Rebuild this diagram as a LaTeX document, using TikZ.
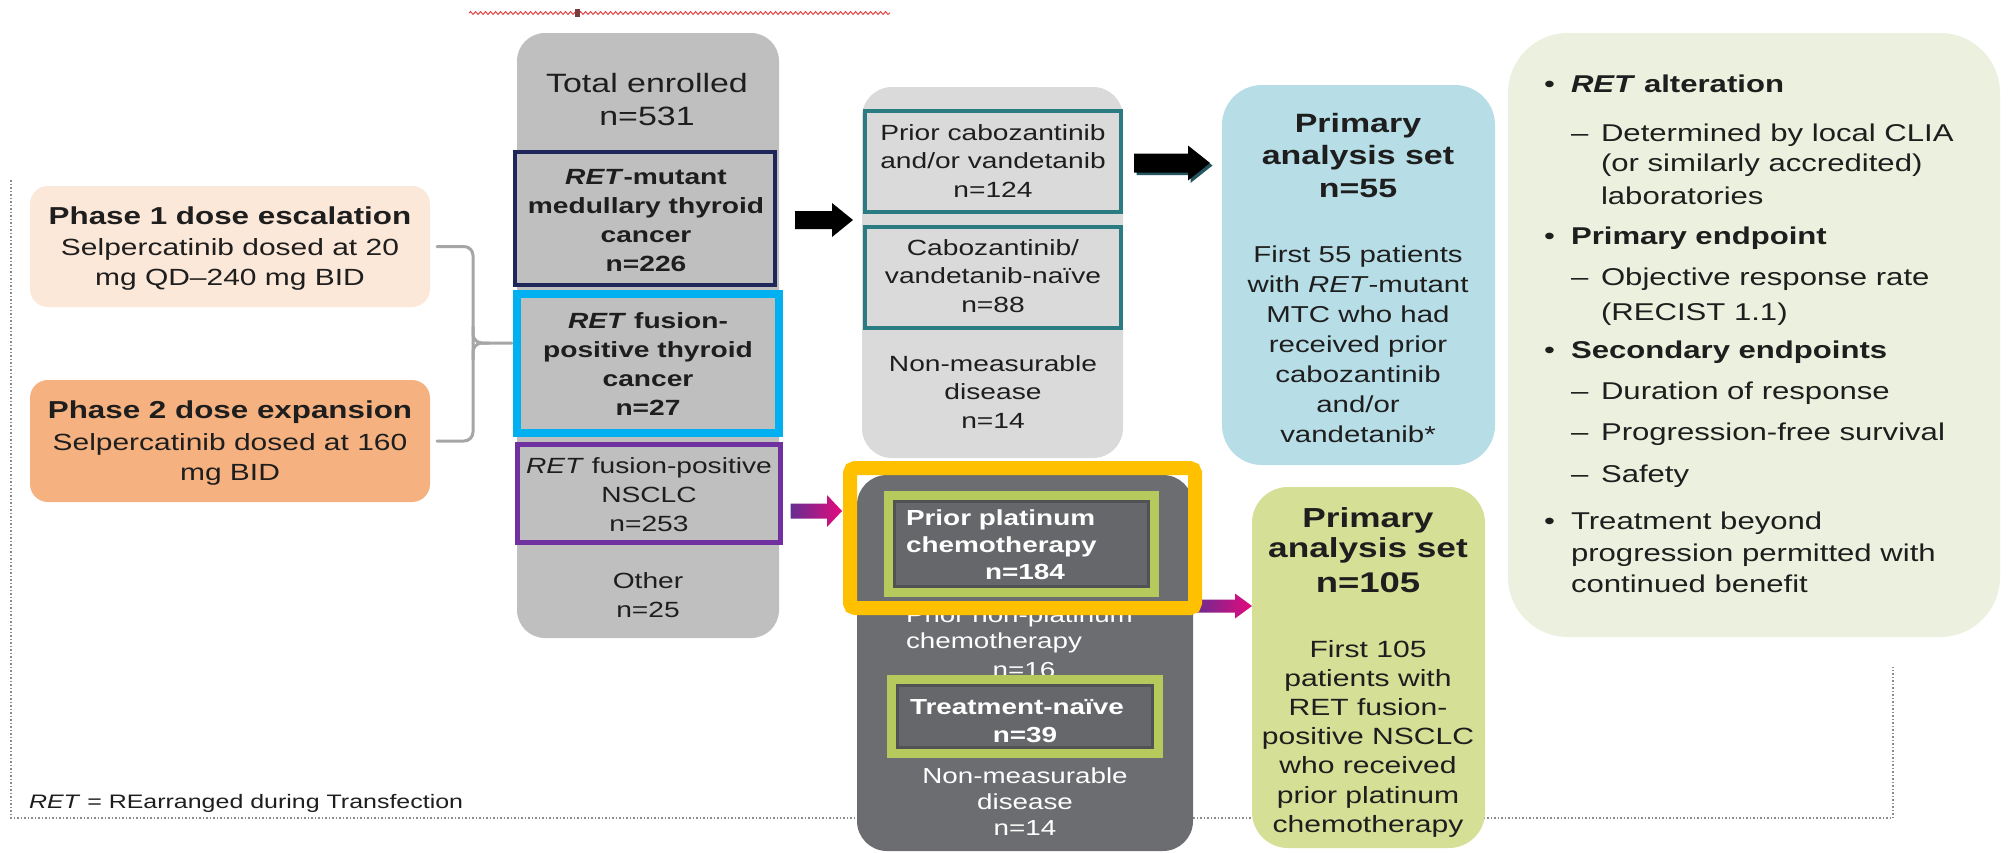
\documentclass[tikz,border=0pt]{standalone}
\usepackage{fontspec}
\setmainfont{Liberation Sans}[FakeStretch=1.28]
\usetikzlibrary{calc,decorations.pathmorphing}

\definecolor{ink}{RGB}{30,30,30}
\definecolor{peach}{RGB}{252,232,217}
\definecolor{phaseorange}{RGB}{245,178,128}
\definecolor{colgray}{RGB}{191,191,191}
\definecolor{navyline}{RGB}{31,38,89}
\definecolor{skyline}{RGB}{0,176,240}
\definecolor{nsclcpurple}{RGB}{112,48,160}
\definecolor{cabogray}{RGB}{218,218,218}
\definecolor{tealline}{RGB}{43,124,130}
\definecolor{darkfill}{RGB}{108,109,112}
\definecolor{platfill}{RGB}{102,103,106}
\definecolor{innerdark}{RGB}{82,82,85}
\definecolor{limeline}{RGB}{181,201,92}
\definecolor{amber}{RGB}{255,192,0}
\definecolor{primblue}{RGB}{183,221,230}
\definecolor{primgreen}{RGB}{214,223,150}
\definecolor{panelgreen}{RGB}{235,241,222}
\definecolor{bracketgray}{RGB}{166,166,166}
\definecolor{framegray}{RGB}{140,140,140}
\definecolor{arrowpurple}{RGB}{102,45,145}
\definecolor{arrowmagenta}{RGB}{228,10,125}
\definecolor{arrowshadow}{RGB}{35,85,95}
\definecolor{squiggle}{RGB}{225,70,70}
\definecolor{cursormark}{RGB}{120,60,60}

\newcommand\fs[2]{\fontsize{#1}{#2}\selectfont}
\newcommand\cstack[1]{\begin{tabular}[t]{@{}c@{}}#1\end{tabular}}
\newcommand\lstack[1]{\begin{tabular}[t]{@{}l@{}}#1\end{tabular}}
% box node from its two corners: name, style, x1, y1, x2, y2
\newcommand\boxat[6]{\node[#2, minimum width={(#5)-(#3)}, minimum height={(#6)-(#4)}] (#1) at ({((#3)+(#5))/2},{((#4)+(#6))/2}) {};}
% horizontal block arrow: style, start, tip, shaft half height, head half height, head length
\newcommand\harrow[6][]{\path[#1] ($(#2)+(0,-#4)$) -- ($(#3)+(-#6,-#4)$) -- ($(#3)+(-#6,-#5)$) -- (#3) -- ($(#3)+(-#6,#5)$) -- ($(#3)+(-#6,#4)$) -- ($(#2)+(0,#4)$) -- cycle;}

\tikzset{
  box/.style={rectangle, inner sep=0pt, outer sep=0pt},
  lbl/.style={inner sep=0pt, outer sep=0pt, anchor=base, text=ink},
  lbll/.style={lbl, anchor=base west},
  wlbl/.style={lbl, text=white},
  wlbll/.style={lbll, text=white},
  bracketline/.style={draw=bracketgray, line width=3pt, line cap=round},
}

\begin{document}
\begin{tikzpicture}[x=1pt, y=-1pt]
\fill[white] (0,0) rectangle (2008,852);
\useasboundingbox (0,0) rectangle (2008,852);

% wavy underline at the top
\draw[squiggle, line width=1pt, decorate, decoration={snake, segment length=5pt, amplitude=1.4pt}] (469,13) -- (890,13);
\fill[cursormark] (574.5,9) rectangle (579.5,17);

% dotted frame
\draw[framegray, line width=1.3pt, dash pattern=on 1.5pt off 2pt] (11,180) -- (11,818) -- (1893,818) -- (1893,667);

% study phases
\boxat{phase1}{box, fill=peach, rounded corners=18pt}{30}{186}{430}{307}
\boxat{phase2}{box, fill=phaseorange, rounded corners=18pt}{30}{380}{430}{502}
\node[lbl, font=\fs{24.5}{30}\bfseries] (phase1-title) at (230,224) {Phase 1 dose escalation};
\node[lbl, font=\fs{23.4}{30}] (phase1-text) at (230,255) {\cstack{Selpercatinib dosed at 20\\mg QD–240 mg BID}};
\node[lbl, font=\fs{24.5}{30}\bfseries] (phase2-title) at (230,418) {Phase 2 dose expansion};
\node[lbl, font=\fs{23.4}{30}] (phase2-text) at (230,450) {\cstack{Selpercatinib dosed at 160\\mg BID}};

% enrolled column
\boxat{total}{box, fill=colgray, rounded corners=28pt}{517}{33}{779}{638}
\boxat{mtc}{box, fill=colgray, draw=navyline, line width=4pt}{515}{152}{775}{285}
\boxat{rtc}{box, fill=colgray, draw=skyline, line width=8pt}{517}{294}{779}{433}
\boxat{nsclc}{box, fill=colgray, draw=nsclcpurple, line width=5pt}{517.5}{444.5}{780.5}{542.5}
\node[lbl, font=\fs{26.5}{33}] (total-text) at (647,92) {\cstack{Total enrolled\\n=531}};
\node[lbl, font=\fs{22}{29}\bfseries] (mtc-text) at (646,184) {\cstack{\textit{RET}-mutant\\medullary thyroid\\cancer\\n=226}};
\node[lbl, font=\fs{22}{29}\bfseries] (rtc-text) at (648,328) {\cstack{\textit{RET} fusion-\\positive thyroid\\cancer\\n=27}};
\node[lbl, font=\fs{22}{29}] (nsclc-text) at (649,473) {\cstack{\textit{RET} fusion-positive\\NSCLC\\n=253}};
\node[lbl, font=\fs{22}{29}] (other-text) at (648,588) {\cstack{Other\\n=25}};

% bracket joining the two phases
\coordinate (bx) at (473,343);
\draw[bracketline, rounded corners=9pt] ($(phase1.east)+(7,0)$) -| (bx);
\draw[bracketline, rounded corners=9pt] ($(phase2.east)+(7,0)$) -| (bx);
\draw[bracketline, rounded corners=9pt] ($(bx)+(0,-16)$) |- ($(bx)+(16,0)$) -- ($(rtc.west |- bx)+(-5,0)$);
\draw[bracketline, rounded corners=9pt] ($(bx)+(0,16)$) |- ($(bx)+(16,0)$);

% MTC breakdown
\boxat{cabo}{box, fill=cabogray, rounded corners=30pt}{862}{87}{1123}{458}
\boxat{pc}{box, fill=cabogray, draw=tealline, line width=4pt}{865}{111}{1121}{212}
\boxat{naive}{box, fill=cabogray, draw=tealline, line width=4pt}{865}{227}{1121}{328}
\node[lbl, font=\fs{22}{28.5}] (pc-text) at (993,140) {\cstack{Prior cabozantinib\\and/or vandetanib\\n=124}};
\node[lbl, font=\fs{22}{28.5}] (naive-text) at (993,255) {\cstack{Cabozantinib/\\vandetanib-naïve\\n=88}};
\node[lbl, font=\fs{22}{28.5}] (mtcnm-text) at (993,371) {\cstack{Non-measurable\\disease\\n=14}};

% primary analysis set, MTC
\boxat{prim55}{box, fill=primblue, rounded corners=40pt}{1222}{85}{1495}{465}
\node[lbl, font=\fs{26.5}{32.5}\bfseries] (prim55-title) at (1358,132) {\cstack{Primary\\analysis set\\n=55}};
\node[lbl, font=\fs{23}{30}] (prim55-text) at (1358,262) {\cstack{First 55 patients\\with \textit{RET}-mutant\\MTC who had\\received prior\\cabozantinib\\and/or\\vandetanib*}};

% black arrows
\coordinate (a1s) at ($(mtc.east)+(20,1.5)$);
\coordinate (a1e) at ($(a1s -| cabo.west)+(-9,0)$);
\harrow[fill=black]{a1s}{a1e}{9}{17}{21}
\coordinate (a2s) at ($(pc.east)+(13,1.5)$);
\coordinate (a2e) at ($(a2s -| prim55.west)+(-12,0)$);
\coordinate (a2ss) at ($(a2s)+(2.5,2.5)$);
\coordinate (a2se) at ($(a2e)+(2.5,2.5)$);
\harrow[fill=arrowshadow]{a2ss}{a2se}{9.5}{17.5}{22}
\harrow[fill=black]{a2s}{a2e}{9.5}{17.5}{22}

% criteria panel
\boxat{panel}{box, fill=panelgreen, rounded corners=60pt}{1508}{33}{2000}{637}
\begin{scope}[every node/.style={lbll, font=\fs{24.3}{30}}]
\node (b1) at (1544,92) {•};
\node (r1) at (1571,92) {\textbf{\textit{RET} alteration}};
\node (d1) at (1571,141) {–};
\node (r2) at (1601,141) {Determined by local CLIA};
\node (r3) at (1601,171) {(or similarly accredited)};
\node (r4) at (1601,204) {laboratories};
\node (b2) at (1544,244) {•};
\node (r5) at (1571,244) {\textbf{Primary endpoint}};
\node (d2) at (1571,285) {–};
\node (r6) at (1601,285) {Objective response rate};
\node (r7) at (1601,320) {(RECIST 1.1)};
\node (b3) at (1544,358) {•};
\node (r8) at (1571,358) {\textbf{Secondary endpoints}};
\node (d3) at (1571,399) {–};
\node (r9) at (1601,399) {Duration of response};
\node (d4) at (1571,440) {–};
\node (r10) at (1601,440) {Progression-free survival};
\node (d5) at (1571,482) {–};
\node (r11) at (1601,482) {Safety};
\node (b4) at (1544,529) {•};
\node (r12) at (1571,529) {Treatment beyond};
\node (r13) at (1571,561) {progression permitted with};
\node (r14) at (1571,592) {continued benefit};
\end{scope}

% NSCLC breakdown
\boxat{dark}{box, fill=darkfill, rounded corners=30pt}{857}{475}{1193}{851}
\node[wlbll, font=\fs{21.7}{26}] (nonplat-text) at (906,622) {\lstack{Prior non-platinum\\chemotherapy}};
\node[wlbl, font=\fs{21.7}{26}] (nonplat-n) at (1024,677) {n=16};
\boxat{plat}{box, fill=platfill, draw=limeline, line width=9pt}{888.5}{495.5}{1154.5}{592.5}
\draw[innerdark, line width=3pt] ($(plat.north west)+(6,6)$) rectangle ($(plat.south east)+(-6,-6)$);
\boxat{tnaive}{box, fill=platfill, draw=limeline, line width=9pt}{891.5}{679.5}{1158.5}{753.5}
\draw[innerdark, line width=3pt] ($(tnaive.north west)+(6,6)$) rectangle ($(tnaive.south east)+(-6,-6)$);
\node[wlbll, font=\fs{21.8}{27}\bfseries] (plat-text) at (906,525) {\lstack{Prior platinum\\chemotherapy}};
\node[wlbl, font=\fs{21.8}{27}\bfseries] (plat-n) at (1025,579) {n=184};
\node[wlbll, font=\fs{21.8}{27}\bfseries] (tnaive-text) at (910,714) {Treatment-naïve};
\node[wlbl, font=\fs{21.8}{27}\bfseries] (tnaive-n) at (1025,742) {n=39};
\node[wlbl, font=\fs{21.7}{26}] (nsclcnm-text) at (1025,783) {\cstack{Non-measurable\\disease\\n=14}};

% primary analysis set, NSCLC
\boxat{prim105}{box, fill=primgreen, rounded corners=36pt}{1252}{487}{1485}{848}
\node[lbl, font=\fs{27.5}{30}\bfseries] (prim105-title) at (1368,527) {\cstack{Primary\\analysis set}};
\node[lbl, font=\fs{28.5}{30}\bfseries] (prim105-n) at (1368,592) {n=105};
\node[lbl, font=\fs{23.5}{29.2}] (prim105-text) at (1368,657) {\cstack{First 105\\patients with\\RET fusion-\\positive NSCLC\\who received\\prior platinum\\chemotherapy}};

% gradient arrows
\coordinate (a3s) at ($(nsclc.east)+(10,17.5)$);
\coordinate (a3e) at ($(a3s -| dark.west)+(-15,0)$);
\harrow[left color=arrowpurple, right color=arrowmagenta]{a3s}{a3e}{7.5}{16}{15}
\coordinate (a4s) at ($(dark.east)+(0,-57)$);
\coordinate (a4e) at (a4s -| prim105.west);
\harrow[left color=arrowpurple, right color=arrowmagenta]{a4s}{a4e}{6.5}{12.5}{17}

% highlight frame
\boxat{hl}{box, draw=amber, line width=14pt, rounded corners=5pt}{850}{468}{1195}{608}

% footnote
\node[lbll, font=\fs{19.5}{24}] (foot) at (29,808) {\textit{RET} = REarranged during Transfection};
\end{tikzpicture}
\end{document}
